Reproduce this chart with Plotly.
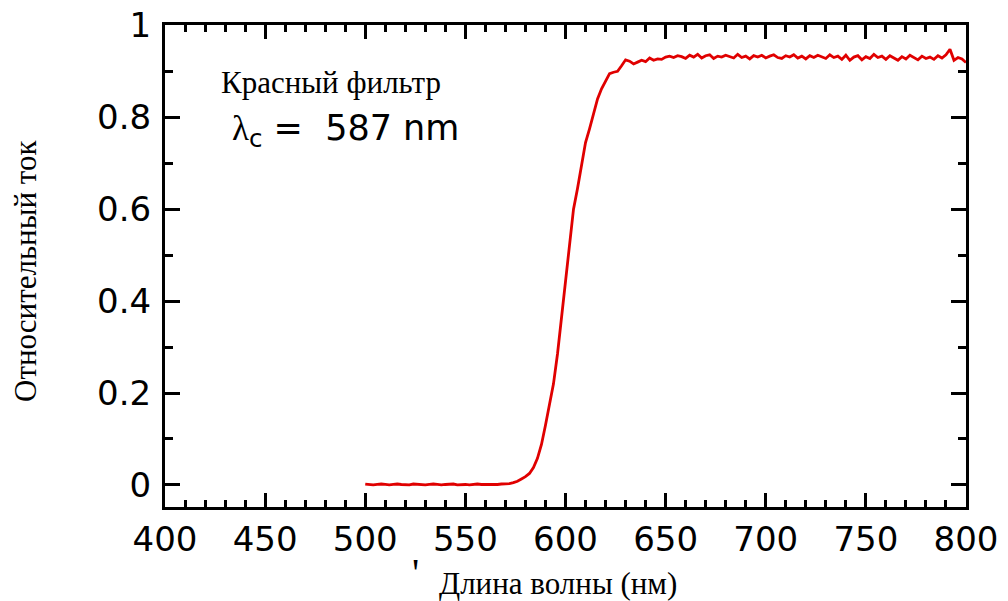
import plotly.graph_objects as go

# Wavelength (nm) and relative current
wavelength_flat = [500, 502, 504, 506, 508, 510, 512, 514, 516, 518, 520, 522, 524, 526, 528,
                   530, 532, 534, 536, 538, 540, 542, 544, 546, 548, 550, 552, 554, 556, 558,
                   560, 562, 564, 566, 568, 570, 572, 574]
current_flat = [0.002, 0.001, 0.000, 0.001, 0.002, 0.001, 0.000, 0.001, 0.002, 0.001, 0.001,
                0.000, 0.002, 0.001, 0.001, 0.000, 0.001, 0.002, 0.001, 0.000, 0.001, 0.001,
                0.002, 0.000, 0.001, 0.001, 0.000, 0.001, 0.002, 0.001, 0.001, 0.000, 0.001,
                0.001, 0.002, 0.002, 0.003, 0.005]

wavelength_rise = [576, 578, 580, 582, 584, 586, 588, 590, 592, 594, 596, 598, 600, 602, 604,
                   606, 608, 610, 612, 614, 616, 618, 620, 622, 624, 626, 628, 630, 632, 634,
                   636, 638, 640]
current_rise = [0.008, 0.013, 0.018, 0.025, 0.038, 0.058, 0.088, 0.130, 0.178, 0.220, 0.285,
                0.365, 0.445, 0.520, 0.600, 0.645, 0.695, 0.745, 0.775, 0.805, 0.840, 0.862,
                0.880, 0.895, 0.898, 0.900, 0.912, 0.925, 0.922, 0.916, 0.920, 0.924, 0.921]

wavelength_plateau = [642, 644, 646, 648, 650, 652, 654, 656, 658, 660, 662, 664, 666, 668, 670,
                      672, 674, 676, 678, 680, 682, 684, 686, 688, 690, 692, 694, 696, 698, 700,
                      702, 704, 706, 708, 710, 712, 714, 716, 718, 720, 722, 724, 726, 728, 730,
                      732, 734, 736, 738, 740, 742, 744, 746, 748, 750, 752, 754, 756, 758, 760,
                      762, 764, 766, 768, 770, 772, 774, 776, 778, 780, 782, 784, 786, 788, 790,
                      792, 794, 796, 798, 800]
current_plateau = [0.929, 0.924, 0.927, 0.926, 0.931, 0.933, 0.930, 0.934, 0.932, 0.928, 0.935,
                   0.931, 0.937, 0.929, 0.934, 0.936, 0.928, 0.933, 0.931, 0.935, 0.932, 0.929,
                   0.937, 0.930, 0.933, 0.927, 0.934, 0.931, 0.935, 0.929, 0.933, 0.936, 0.930,
                   0.928, 0.934, 0.931, 0.936, 0.929, 0.933, 0.927, 0.934, 0.930, 0.935, 0.932,
                   0.928, 0.936, 0.930, 0.933, 0.926, 0.935, 0.924, 0.931, 0.934, 0.925, 0.932,
                   0.928, 0.937, 0.930, 0.933, 0.926, 0.934, 0.929, 0.924, 0.932, 0.927, 0.935,
                   0.930, 0.925, 0.933, 0.928, 0.931, 0.926, 0.934, 0.929, 0.936, 0.948, 0.924,
                   0.930, 0.927, 0.919]

wavelength = wavelength_flat + wavelength_rise + wavelength_plateau
current = current_flat + current_rise + current_plateau

x_tickvals = [400, 450, 500, 550, 600, 650, 700, 750, 800]
x_ticktext = ["400", "450", "500", "550", "600", "650", "700", "750", "800"]
y_tickvals = [0, 0.2, 0.4, 0.6, 0.8, 1.0]
y_ticktext = ["0", "0.2", "0.4", "0.6", "0.8", "1"]

SANS = "DejaVu Sans"
SERIF = "Liberation Serif"

OFF = 8                      # page body margin of the html page
W, H = 1008 - OFF, 601 - OFF
# plot area in window pixels: left 165, right 966, top 25, bottom 507
PL, PR, PT, PB = 165, 966, 25, 507
L, R, T, B = PL - OFF, W - (PR - OFF), PT - OFF, H - (PB - OFF)


def px(xw):
    return (xw - PL) / (PR - PL)


def py(yw):
    return (PB - yw) / (PB - PT)


fig = go.Figure()
fig.add_trace(go.Scatter(x=wavelength, y=current, mode="lines",
                         line=dict(color="#e00000", width=2.8), showlegend=False,
                         hoverinfo="skip"))

axis_common = dict(showline=True, linecolor="black", linewidth=3, mirror="allticks",
                   ticks="inside", tickcolor="black", tickwidth=3, showgrid=False,
                   zeroline=False, ticklabeloverflow="allow",
                   tickfont=dict(family=SANS, size=34, color="black"))

fig.update_xaxes(range=[400, 800], tickvals=x_tickvals, ticktext=x_ticktext, ticklen=14,
                 minor=dict(ticks="inside", dtick=10, tick0=400, ticklen=7, tickwidth=2.5,
                            tickcolor="black", showgrid=False),
                 **axis_common)
fig.update_yaxes(range=[-0.048, 1.0008], tickvals=y_tickvals, ticktext=y_ticktext, ticklen=15,
                 ticklabelstandoff=4,
                 minor=dict(ticks="inside", dtick=0.1, tick0=0, ticklen=8, tickwidth=2.5,
                            tickcolor="black", showgrid=False),
                 **axis_common)

annotations = [
    dict(text="Длина волны (нм)", x=px(558), y=py(584), xanchor="center", yanchor="middle",
         font=dict(family=SERIF, size=31, color="black")),
    dict(text="Относительный ток", x=px(25), y=py(271), xanchor="center", yanchor="middle",
         textangle=-90, font=dict(family=SERIF, size=31, color="black")),
    dict(text="Красный фильтр", x=px(331), y=py(82), xanchor="center", yanchor="middle",
         font=dict(family=SERIF, size=31, color="black")),
    dict(text="<span style='font-family:Liberation Serif'>λ</span><sub>c</sub> =  587 nm",
         x=px(230), y=py(130), xanchor="left", yanchor="middle",
         font=dict(family=SANS, size=35, color="black")),
    dict(text="'", x=px(415), y=py(572), xanchor="center", yanchor="middle",
         font=dict(family=SERIF, size=40, color="black")),
]
for a in annotations:
    a.update(xref="paper", yref="paper", showarrow=False)

fig.update_layout(width=W, height=H, margin=dict(l=L, r=R, t=T, b=B, autoexpand=False),
                  paper_bgcolor="white", plot_bgcolor="white", annotations=annotations)

fig.write_html("out.html")
